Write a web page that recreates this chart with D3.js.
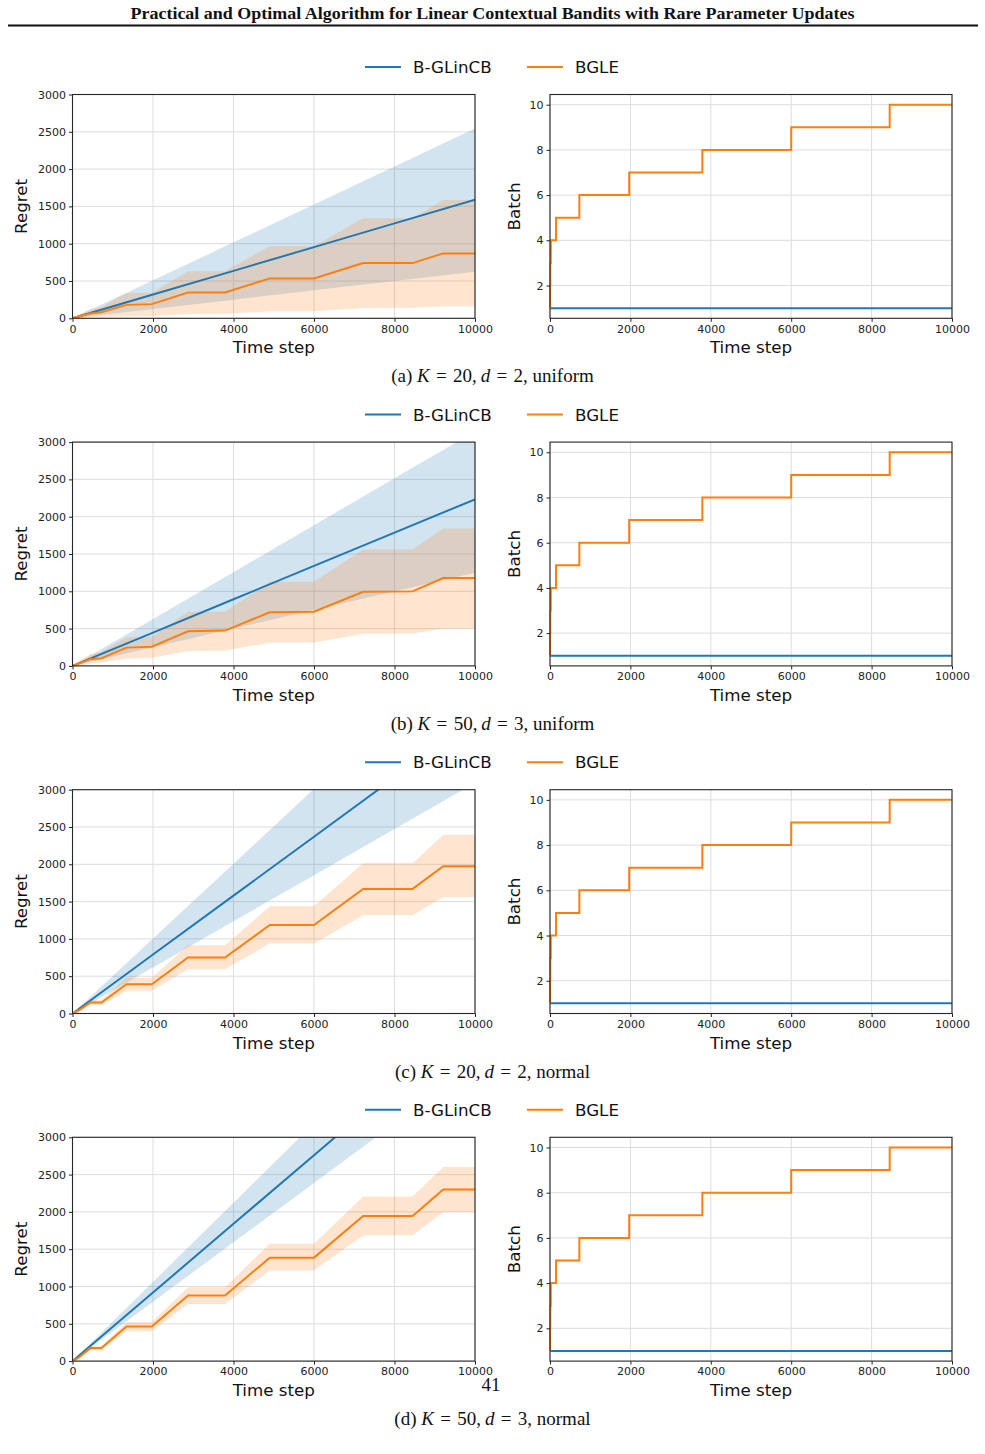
<!DOCTYPE html>
<html>
<head>
<meta charset="utf-8">
<script src="https://cdn.jsdelivr.net/npm/d3@7"></script>
<style>
  html, body { margin: 0; padding: 0; background: #fff; }
  svg { display: block; }
  .tick text { font-family: "DejaVu Sans", sans-serif; font-size: 11px; fill: #222; }
  .tick line { stroke: #222; }
</style>
</head>
<body>
<svg id="fig" width="985" height="1454"></svg>
<script>
// ---- data ----
const timeTicks = [0, 2000, 4000, 6000, 8000, 10000];
const regretTicks = [0, 500, 1000, 1500, 2000, 2500, 3000];
const batchTicks = [2, 4, 6, 8, 10];
const seriesNames = ['B-GLinCB', 'BGLE'];
const captions = [
  ['(a) ', 'K', '\u2004=\u200420,\u2009', 'd', '\u2004=\u20042, uniform'],
  ['(b) ', 'K', '\u2004=\u200450,\u2009', 'd', '\u2004=\u20043, uniform'],
  ['(c) ', 'K', '\u2004=\u200420,\u2009', 'd', '\u2004=\u20042, normal'],
  ['(d) ', 'K', '\u2004=\u200450,\u2009', 'd', '\u2004=\u20043, normal']
];

// B-GLinCB regret (mean, upper, lower) sampled at blueT
const blueT = [0, 2000, 4000, 6000, 8000, 10000];
const blueMeanA = [0, 318, 636, 954, 1272, 1590];
const blueUpA = [0, 509, 1018, 1527, 2036, 2545];
const blueLoA = [0, 125, 250, 375, 500, 625];
const blueMeanB = [0, 447, 893, 1340, 1786, 2233];
const blueUpB = [0, 629, 1257, 1886, 2514, 3143];
const blueLoB = [0, 250, 500, 750, 1000, 1250];
const blueMeanC = [0, 790, 1580, 2370, 3160, 3950];
const blueUpC = [0, 1004, 2008, 3012, 4016, 5020];
const blueLoC = [0, 618, 1236, 1854, 2472, 3090];
const blueMeanD = [0, 920, 1840, 2760, 3680, 4600];
const blueUpD = [0, 1062, 2124, 3186, 4248, 5310];
const blueLoD = [0, 796, 1592, 2388, 3184, 3980];

// BGLE regret (mean, upper, lower) sampled at orangeT
const orangeT = [0, 150, 440, 720, 1340, 1970, 2870, 3790, 4900, 6000, 7220, 8450, 9210, 10000];
const orangeMeanA = [0, 25, 65, 80, 180, 190, 345, 345, 535, 535, 740, 740, 870, 870];
const orangeUpA = [0, 50, 120, 150, 340, 340, 632, 632, 967, 967, 1340, 1340, 1585, 1585];
const orangeLoA = [0, 5, 15, 20, 25, 30, 58, 60, 94, 95, 138, 140, 160, 160];
const orangeMeanB = [0, 30, 90, 102, 245, 258, 464, 473, 718, 727, 994, 999, 1177, 1177];
const orangeUpB = [0, 60, 160, 190, 385, 390, 727, 727, 1128, 1128, 1560, 1560, 1841, 1841];
const orangeLoB = [0, 5, 30, 45, 98, 110, 200, 205, 312, 315, 432, 435, 500, 500];
const orangeMeanC = [0, 40, 147, 147, 393, 393, 750, 750, 1187, 1187, 1670, 1670, 1973, 1973];
const orangeUpC = [0, 60, 180, 185, 478, 478, 915, 915, 1437, 1437, 2013, 2013, 2397, 2397];
const orangeLoC = [0, 20, 115, 115, 304, 304, 594, 594, 937, 937, 1317, 1317, 1563, 1563];
const orangeMeanD = [0, 45, 174, 174, 464, 464, 878, 878, 1387, 1387, 1944, 1944, 2300, 2300];
const orangeUpD = [0, 60, 200, 200, 522, 522, 990, 990, 1574, 1574, 2207, 2207, 2603, 2603];
const orangeLoD = [0, 30, 150, 150, 401, 401, 767, 767, 1213, 1213, 1685, 1685, 1997, 1997];

// batch counts (step after)
const batchT = [0, 3, 8, 20, 150, 730, 1970, 3790, 6000, 8450, 10000];
const bgleBatch = [1, 2, 3, 4, 5, 6, 7, 8, 9, 10, 10];
const glincbBatchT = [0, 10000];
const glincbBatch = [1, 1];

const blueMeans = [blueMeanA, blueMeanB, blueMeanC, blueMeanD];
const blueUps = [blueUpA, blueUpB, blueUpC, blueUpD];
const blueLos = [blueLoA, blueLoB, blueLoC, blueLoD];
const orangeMeans = [orangeMeanA, orangeMeanB, orangeMeanC, orangeMeanD];
const orangeUps = [orangeUpA, orangeUpB, orangeUpC, orangeUpD];
const orangeLos = [orangeLoA, orangeLoB, orangeLoC, orangeLoD];

// ---- layout ----
const BLUE = '#1f77b4';
const ORANGE = '#ff7f0e';
const GRID = '#dddddd';
const SPINE = '#262626';
const rowTop = 94.5;
const rowStep = 347.6;
const plotH = 223.8;
const leftX = [72.5, 475];
const rightX = [550, 952];

const svg = d3.select('#fig');
svg.append('rect').attr('width', 985).attr('height', 1454).attr('fill', '#fff');

// page header
svg.append('text')
  .attr('x', 492.5).attr('y', 19)
  .attr('text-anchor', 'middle')
  .attr('textLength', 724).attr('lengthAdjust', 'spacingAndGlyphs')
  .style('font-family', '"Liberation Serif", "Times New Roman", serif')
  .style('font-weight', 'bold')
  .style('font-size', '16.5px')
  .attr('fill', '#111')
  .text('Practical and Optimal Algorithm for Linear Contextual Bandits with Rare Parameter Updates');
svg.append('line')
  .attr('x1', 8).attr('x2', 978).attr('y1', 25.5).attr('y2', 25.5)
  .attr('stroke', '#111').attr('stroke-width', 2);

function frame(g, x, y, yTicks) {
  // grid
  g.append('g').selectAll('line').data(timeTicks).join('line')
    .attr('x1', d => x(d)).attr('x2', d => x(d))
    .attr('y1', y.range()[0]).attr('y2', y.range()[1])
    .attr('stroke', GRID).attr('stroke-width', 1);
  g.append('g').selectAll('line').data(yTicks).join('line')
    .attr('x1', x.range()[0]).attr('x2', x.range()[1])
    .attr('y1', d => y(d)).attr('y2', d => y(d))
    .attr('stroke', GRID).attr('stroke-width', 1);
}

function axes(g, x, y, yTicks, yLabel, labelX) {
  const bottom = y.range()[0], top = y.range()[1];
  g.append('g')
    .attr('transform', `translate(0,${bottom})`)
    .call(d3.axisBottom(x).tickValues(timeTicks).tickSize(3.5).tickPadding(3).tickFormat(d3.format('d')))
    .call(s => s.select('.domain').remove());
  g.append('g')
    .attr('transform', `translate(${x.range()[0]},0)`)
    .call(d3.axisLeft(y).tickValues(yTicks).tickSize(3.5).tickPadding(3).tickFormat(d3.format('d')))
    .call(s => s.select('.domain').remove());
  g.append('rect')
    .attr('x', x.range()[0]).attr('y', top)
    .attr('width', x.range()[1] - x.range()[0]).attr('height', bottom - top)
    .attr('fill', 'none').attr('stroke', SPINE).attr('stroke-width', 1.1);
  g.append('text')
    .attr('x', (x.range()[0] + x.range()[1]) / 2).attr('y', bottom + 35)
    .attr('text-anchor', 'middle')
    .style('font-family', '"DejaVu Sans", sans-serif').style('font-size', '16.7px')
    .attr('fill', '#111')
    .text('Time step');
  g.append('text')
    .attr('transform', `translate(${labelX},${(top + bottom) / 2}) rotate(-90)`)
    .attr('text-anchor', 'middle')
    .style('font-family', '"DejaVu Sans", sans-serif').style('font-size', '16.7px')
    .attr('fill', '#111')
    .text(yLabel);
}

for (let i = 0; i < 4; i++) {
  const top = rowTop + i * rowStep;
  const bottom = top + plotH;
  const g = svg.append('g');

  // legend
  const ly = top - 27.5;
  const legendItems = [
    { name: seriesNames[0], color: BLUE, x: 365 },
    { name: seriesNames[1], color: ORANGE, x: 527 }
  ];
  legendItems.forEach(it => {
    g.append('line').attr('x1', it.x).attr('x2', it.x + 36).attr('y1', ly).attr('y2', ly)
      .attr('stroke', it.color).attr('stroke-width', 2);
    g.append('text').attr('x', it.x + 48).attr('y', ly + 6)
      .style('font-family', '"DejaVu Sans", sans-serif').style('font-size', '16.7px')
      .attr('fill', '#111').text(it.name);
  });

  // ---- regret panel ----
  const x = d3.scaleLinear().domain([0, 10000]).range(leftX);
  const y = d3.scaleLinear().domain([0, 3000]).range([bottom, top]);
  frame(g, x, y, regretTicks);

  const clipId = 'clip' + i;
  g.append('clipPath').attr('id', clipId).append('rect')
    .attr('x', leftX[0]).attr('y', top).attr('width', leftX[1] - leftX[0]).attr('height', plotH);
  const body = g.append('g').attr('clip-path', `url(#${clipId})`);

  const band = (ts, lo, hi) => d3.area()
    .x((d, k) => x(ts[k])).y0((d, k) => y(lo[k])).y1((d, k) => y(hi[k]))(ts);
  const line = (ts, vs) => d3.line().x((d, k) => x(ts[k])).y((d, k) => y(vs[k]))(ts);

  body.append('path').attr('d', band(blueT, blueLos[i], blueUps[i]))
    .attr('fill', BLUE).attr('fill-opacity', 0.2);
  body.append('path').attr('d', band(orangeT, orangeLos[i], orangeUps[i]))
    .attr('fill', ORANGE).attr('fill-opacity', 0.2);
  body.append('path').attr('d', line(blueT, blueMeans[i]))
    .attr('fill', 'none').attr('stroke', BLUE).attr('stroke-width', 2);
  body.append('path').attr('d', line(orangeT, orangeMeans[i]))
    .attr('fill', 'none').attr('stroke', ORANGE).attr('stroke-width', 2);

  axes(g, x, y, regretTicks, 'Regret', 27);

  // ---- batch panel ----
  const xb = d3.scaleLinear().domain([0, 10000]).range(rightX);
  const yb = d3.scaleLinear().domain([0.55, 10.45]).range([bottom, top]);
  frame(g, xb, yb, batchTicks);
  const stepLine = (ts, vs) => d3.line().curve(d3.curveStepAfter)
    .x((d, k) => xb(ts[k])).y((d, k) => yb(vs[k]))(ts);
  g.append('path').attr('d', stepLine(glincbBatchT, glincbBatch))
    .attr('fill', 'none').attr('stroke', BLUE).attr('stroke-width', 2);
  g.append('path').attr('d', stepLine(batchT, bgleBatch))
    .attr('fill', 'none').attr('stroke', ORANGE).attr('stroke-width', 2);
  axes(g, xb, yb, batchTicks, 'Batch', 520);

  // caption
  const cap = captions[i];
  const ct = svg.append('text')
    .attr('x', 492.5).attr('y', bottom + 64)
    .attr('text-anchor', 'middle')
    .style('font-family', '"Liberation Serif", "Times New Roman", serif')
    .style('font-size', '19px')
    .attr('fill', '#111');
  cap.forEach((part, k) => {
    const ts = ct.append('tspan').text(part);
    if (k === 1 || k === 3) ts.style('font-style', 'italic');
  });
}

// page number (overlaps the 10000 tick label, as in the source page)
svg.append('text')
  .attr('x', 491).attr('y', 1391)
  .attr('text-anchor', 'middle')
  .style('font-family', '"Liberation Serif", "Times New Roman", serif')
  .style('font-size', '19px')
  .attr('fill', '#111')
  .text('41');
</script>
</body>
</html>
